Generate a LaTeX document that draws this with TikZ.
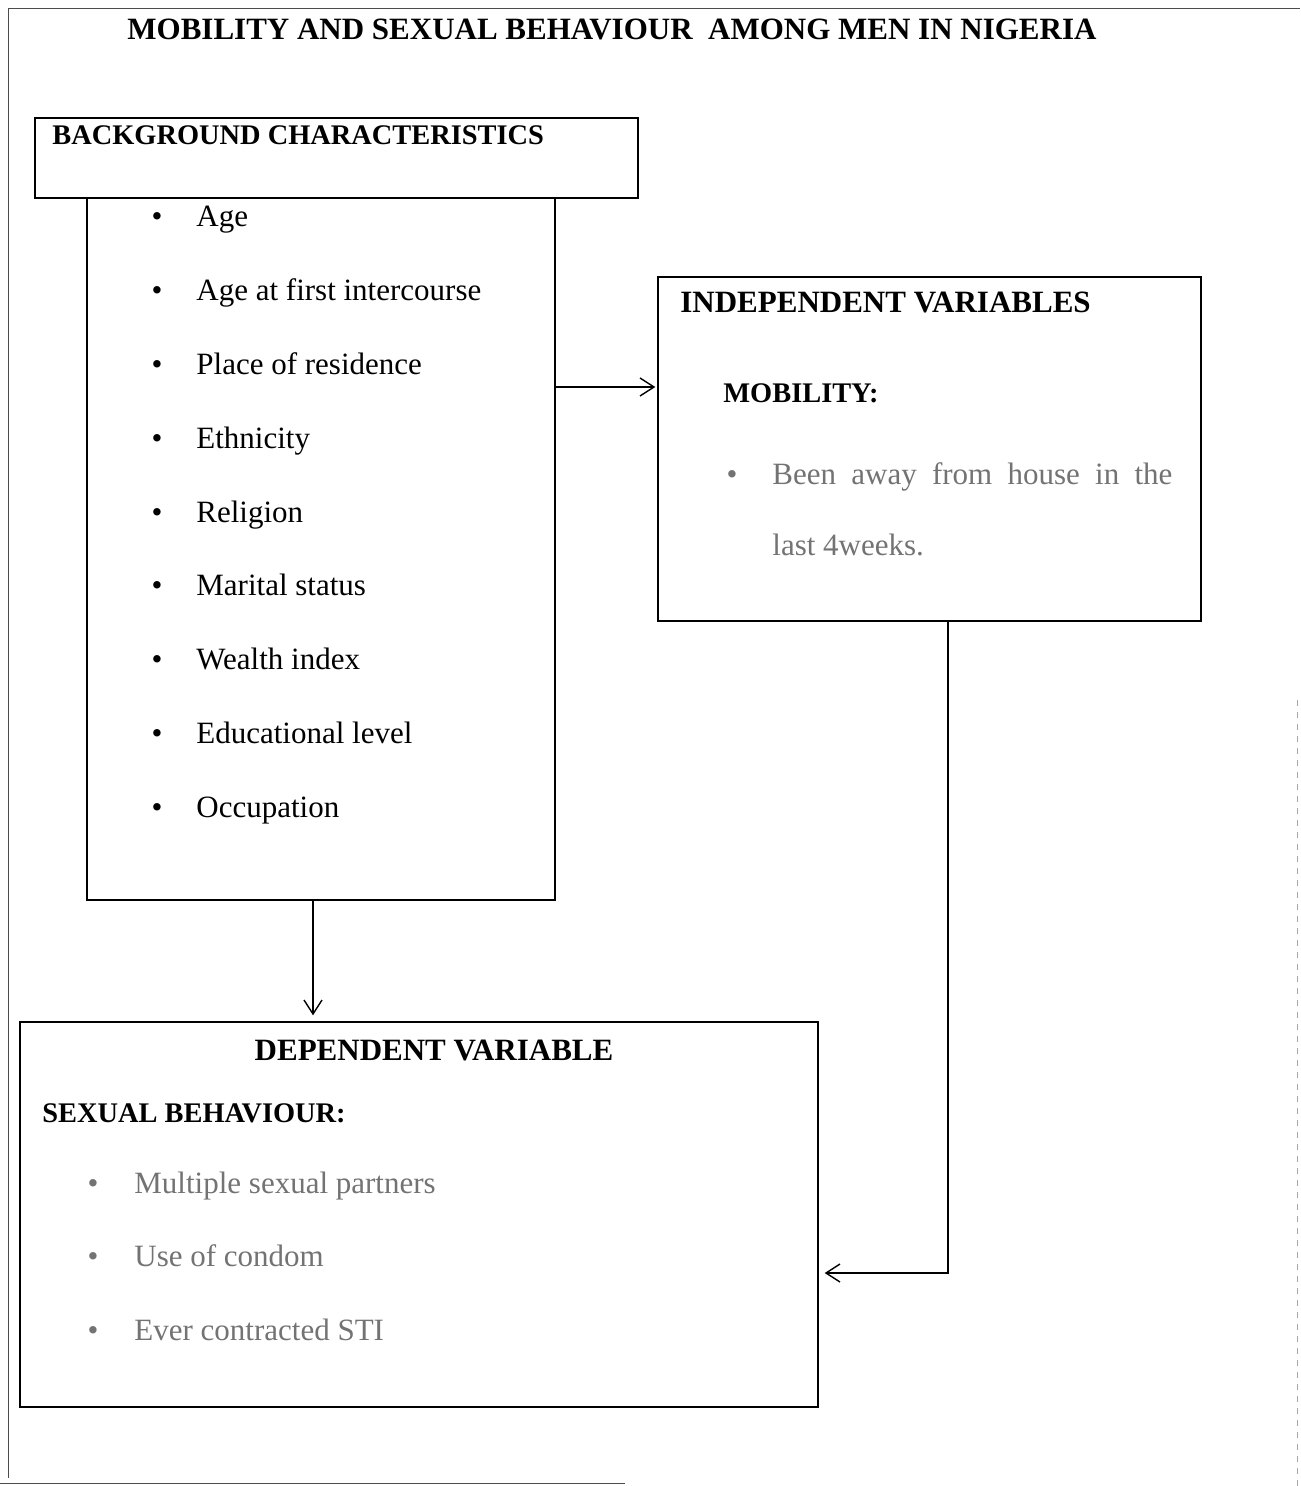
\documentclass[tikz,border=0pt]{standalone}
\usepackage{fontspec}
\setmainfont{Liberation Serif}
\usetikzlibrary{arrows.meta,fit}
\begin{document}
\begin{tikzpicture}[x=0.5pt,y=-0.5pt,
  box/.style={draw, line width=0.7pt, inner sep=0pt},
  hd/.style={anchor=base west, inner sep=0pt, font=\fontsize{15.5}{18}\selectfont\bfseries},
  sub/.style={anchor=base west, inner sep=0pt, font=\fontsize{14.2}{17}\selectfont\bfseries},
  item/.style={anchor=base west, inner sep=0pt, font=\fontsize{15.5}{18}\selectfont},
  bul/.style={anchor=base, inner sep=0pt, font=\fontsize{15.5}{18}\selectfont},
  faint/.style={text=black!55},
  arr/.style={-{Straight Barb[length=7pt,width=9pt]}, line width=0.7pt},
  frameline/.style={line width=0.5pt, draw=black!70}]
\useasboundingbox (0,0) rectangle (1300,1486);
% outer page frame (partial, as scanned)
\draw[frameline] (8,9) -- (1300,9);
\draw[frameline] (8,9) -- (8,1478);
\draw[frameline] (0,1483) -- (625,1483);
\draw[frameline, draw=black!35, dashed] (1297,700) -- (1297,1486);
% title
\node[hd] (title) at (127,40) {MOBILITY AND SEXUAL BEHAVIOUR\ \ AMONG MEN IN NIGERIA};
% background characteristics
\node[box, fit={(35,118)(638,198)}] (bghead) {};
\node[sub] (bgtitle) at (52,145) {BACKGROUND CHARACTERISTICS};
\node[box, fit={(87,198)(555,900)}] (bglist) {};
\foreach \t [count=\i] in {Age, Age at first intercourse, Place of residence, Ethnicity, Religion, Marital status, Wealth index, Educational level, Occupation}{
  \node[bul] (bb\i) at (157, {227+(\i-1)*73.75}) {\textbullet};
  \node[item] (bt\i) at (196, {227+(\i-1)*73.75}) {\t};
}
% independent variables
\node[box, fit={(658,277)(1201,621)}] (indep) {};
\node[hd] (indeptitle) at (680,313) {INDEPENDENT VARIABLES};
\node[sub] (mobility) at (723,403) {MOBILITY:};
\node[bul, faint] (ib1) at (732,484) {\textbullet};
\node[item, faint] (it1) at (772,484) {\makebox[200pt][s]{Been away from house in the}};
\node[item, faint] (it2) at (772,555) {last 4weeks.};
% dependent variable
\node[box, fit={(20,1022)(818,1407)}] (dep) {};
\node[hd, anchor=base] (deptitle) at (434,1060) {DEPENDENT VARIABLE};
\node[sub] (sexual) at (42,1122) {SEXUAL BEHAVIOUR:};
\foreach \t [count=\i] in {Multiple sexual partners, Use of condom, Ever contracted STI}{
  \node[bul, faint] (db\i) at (93, {1193+(\i-1)*73.5}) {\textbullet};
  \node[item, faint] (dt\i) at (134, {1193+(\i-1)*73.5}) {\t};
}
% connectors
\draw[arr] (bglist.east |- 0,387) -- ([xshift=-1pt]indep.west |- 0,387);
\draw[arr, shorten >=3pt] (bglist.south -| 313,0) -- (dep.north -| 313,0);
\draw[arr, shorten >=3pt] (indep.south -| 948,0) |- (dep.east |- 0,1273);
\end{tikzpicture}
\end{document}
